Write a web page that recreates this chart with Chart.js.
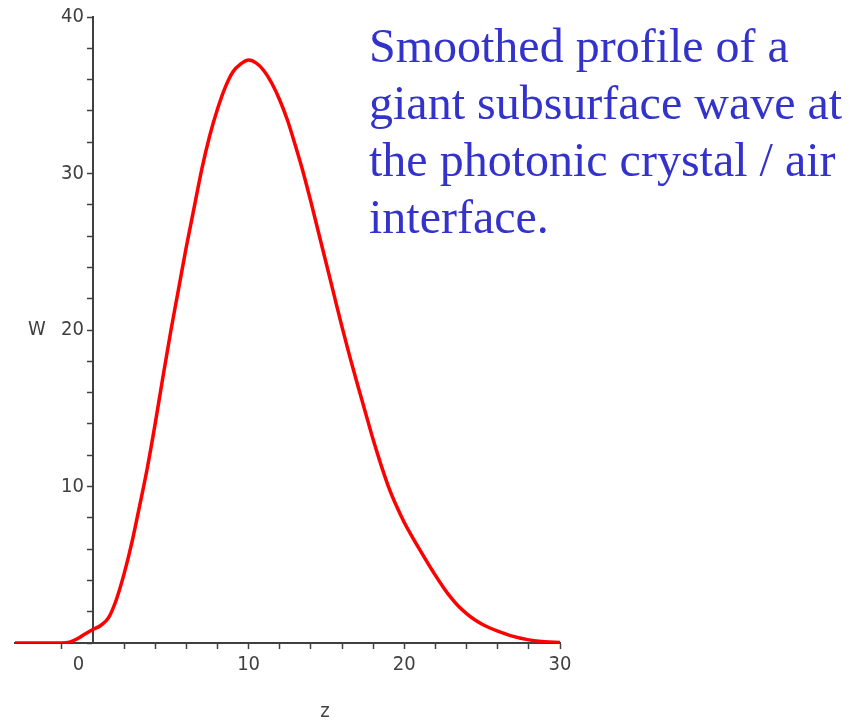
<!DOCTYPE html>
<html>
<head>
<meta charset="utf-8">
<script src="https://cdn.jsdelivr.net/npm/chart.js@4/dist/chart.umd.min.js"></script>
<style>
  body { margin: 0; background: #fff; }
  #wrap { position: relative; width: 857px; height: 721px; }
  #caption {
    position: absolute; left: 369px; top: 17px;
    font-family: 'Liberation Serif', 'Times New Roman', serif;
    font-size: 48px; line-height: 57px; color: #3333cc;
    white-space: nowrap;
  }
</style>
</head>
<body>
<div id="wrap">
  <canvas id="profile" width="857" height="721"></canvas>
  <div id="caption">Smoothed profile of a<br>giant subsurface wave at<br>the photonic crystal / air<br>interface.</div>
</div>
<script>
// depth z and smoothed amplitude W
const zValues = [-5, -2, -1.5, -1, -0.5,
  0, 0.5, 1, 1.5, 2, 2.5, 3, 3.5, 4, 4.5, 5, 5.5, 6, 6.5, 7, 7.5, 8, 8.5, 9, 9.5,
  10, 10.5, 11, 11.5, 12, 12.5, 13, 13.5, 14, 14.5, 15, 15.5, 16, 16.5, 17, 17.5, 18, 18.5, 19, 19.5,
  20, 20.5, 21, 21.5, 22, 22.5, 23, 23.5, 24, 24.5, 25, 25.5, 26, 27, 28, 29, 30];
const wValues = [0, 0, 0.05, 0.27, 0.58,
  0.86, 1.12, 1.6, 2.75, 4.4, 6.4, 8.75, 11.2, 14.0, 17.0, 19.9, 22.6, 25.3, 27.8, 30.3, 32.4, 34.1, 35.5, 36.5, 37.0,
  37.25, 37.05, 36.55, 35.75, 34.7, 33.4, 31.8, 30.1, 28.2, 26.2, 24.2, 22.2, 20.2, 18.3, 16.5, 14.75, 13.0, 11.4, 9.95, 8.75,
  7.7, 6.8, 5.95, 5.12, 4.32, 3.57, 2.9, 2.33, 1.88, 1.5, 1.2, 0.96, 0.76, 0.42, 0.2, 0.08, 0.03];
const xLabels = [0, 10, 20, 30];
const yLabels = [10, 20, 30, 40];

const axisColor = '#404040';
const tickFont = { family: "'Liberation Sans Narrow', 'DejaVu Sans Condensed', sans-serif", size: 20 };

const points = zValues.map((z, i) => ({ x: z, y: wValues[i] }));

// axis names W and z
const axisNames = {
  id: 'axisNames',
  afterDraw(chart) {
    const ctx = chart.ctx;
    const a = chart.chartArea;
    ctx.save();
    ctx.fillStyle = axisColor;
    ctx.font = "20px 'Liberation Sans Narrow', 'DejaVu Sans Condensed', sans-serif";
    ctx.textAlign = 'center';
    ctx.textBaseline = 'middle';
    ctx.fillText('W', 37, (a.top + a.bottom) / 2);
    ctx.fillText('z', 325, 712);
    ctx.restore();
  }
};

new Chart(document.getElementById('profile'), {
  type: 'line',
  data: {
    datasets: [{
      data: points,
      borderColor: '#ff0000',
      borderWidth: 3.5,
      pointRadius: 0,
      fill: false,
      cubicInterpolationMode: 'monotone'
    }]
  },
  options: {
    responsive: false,
    animation: false,
    layout: { padding: { left: 15, top: 17, right: 297, bottom: 78 } },
    plugins: { legend: { display: false }, tooltip: { enabled: false } },
    scales: {
      x: {
        type: 'linear',
        min: -5, max: 30,
        position: { y: 0 },
        afterBuildTicks: axis => { axis.ticks = axis.ticks.filter(t => t.value % 2 === 0); },
        ticks: {
          stepSize: 2,
          color: axisColor,
          font: tickFont,
          padding: 5,
          maxRotation: 0,
          autoSkip: false,
          // the 0 label sits left of the vertical axis
          callback: v => v === 0 ? '0     ' : (xLabels.includes(v) ? String(v) : '')
        },
        grid: {
          drawOnChartArea: false,
          tickLength: 5,
          tickWidth: 1.5,
          tickColor: c => (c.tick && c.tick.value === 0) ? 'rgba(0,0,0,0)' : axisColor
        },
        border: { color: axisColor, width: 2 }
      },
      y: {
        type: 'linear',
        min: 0, max: 40,
        position: { x: 0 },
        ticks: {
          stepSize: 2,
          color: axisColor,
          font: tickFont,
          autoSkip: false,
          callback: v => yLabels.includes(v) ? v + '\u2002' : ''
        },
        grid: {
          drawOnChartArea: false,
          tickLength: 5,
          tickWidth: 1.5,
          color: axisColor
        },
        border: { color: axisColor, width: 2 }
      }
    }
  },
  plugins: [axisNames]
});
</script>
</body>
</html>
